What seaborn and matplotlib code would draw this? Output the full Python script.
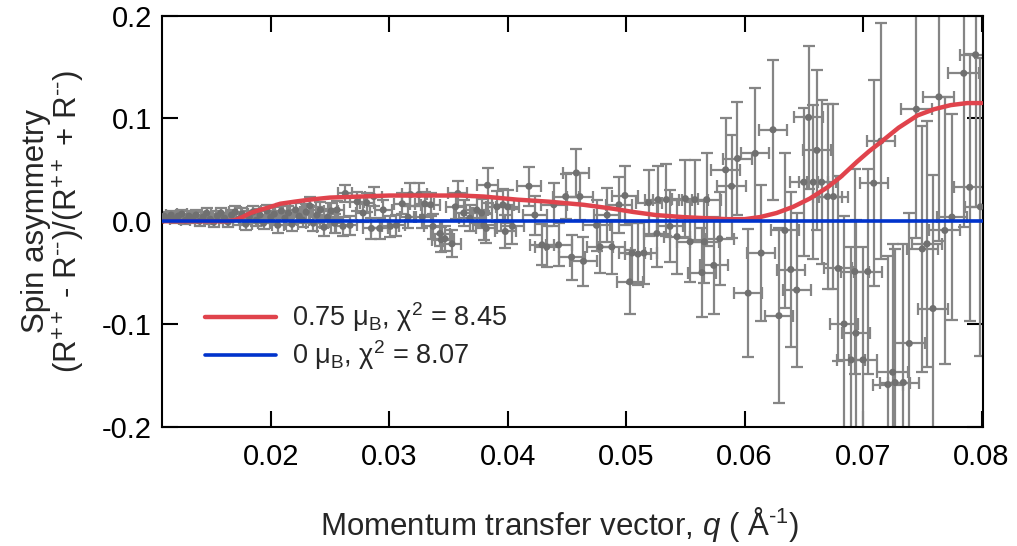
import numpy as np
import pandas as pd
import matplotlib
matplotlib.use("Agg")
import matplotlib.pyplot as plt
import seaborn as sns

# ---------------- data ----------------
q = [0.0110, 0.0113, 0.0116, 0.0119, 0.0122, 0.0125, 0.0128, 0.0131, 0.0134, 0.0137,
     0.0140, 0.0143, 0.0146, 0.0149, 0.0152, 0.0155, 0.0158, 0.0161, 0.0164, 0.0167,
     0.0170, 0.0173, 0.0176, 0.0179, 0.0182, 0.0185, 0.0188, 0.0191, 0.0194, 0.0197,
     0.0200, 0.0203, 0.0206, 0.0209, 0.0212, 0.0215, 0.0218, 0.0221, 0.0224, 0.0227,
     0.0230, 0.0233, 0.0236, 0.0239, 0.0242, 0.0245, 0.0248, 0.0251,
     0.0254, 0.0256, 0.0261, 0.0263, 0.0267, 0.0273, 0.0278, 0.0281, 0.0285, 0.0287,
     0.0292, 0.0295, 0.0301, 0.0306, 0.0311, 0.0316, 0.0318, 0.0325, 0.0328, 0.0330,
     0.0335, 0.0337, 0.0343, 0.0344, 0.0347, 0.0353, 0.0356, 0.0358, 0.0363, 0.0368,
     0.0374, 0.0378, 0.0380, 0.0382, 0.0383, 0.0391, 0.0396, 0.0398, 0.0400, 0.0404,
     0.0418, 0.0423, 0.0429, 0.0433, 0.0439, 0.0443, 0.0449, 0.0454, 0.0458, 0.0461,
     0.0464, 0.0475, 0.0478, 0.0484, 0.0488, 0.0494, 0.0499, 0.0503, 0.0505, 0.0510,
     0.0515, 0.0519, 0.0526, 0.0527, 0.0534, 0.0537, 0.0543, 0.0550, 0.0554, 0.0558,
     0.0564, 0.0566, 0.0568, 0.0574, 0.0579, 0.0584, 0.0589, 0.0594, 0.0603, 0.0609,
     0.0614, 0.0624, 0.0629, 0.0634, 0.0639, 0.0644, 0.0650, 0.0654, 0.0658, 0.0661,
     0.0665, 0.0670, 0.0675, 0.0679, 0.0684, 0.0690, 0.0693, 0.0694, 0.0700, 0.0704,
     0.0709, 0.0715, 0.0721, 0.0725, 0.0727, 0.0734, 0.0739, 0.0745, 0.0750, 0.0754,
     0.0759, 0.0764, 0.0769, 0.0775, 0.0785, 0.0790, 0.0795, 0.0799]

asym = [0.005, 0.003, 0.006, 0.002, 0.005, 0.007, 0.001, 0.005, 0.003, 0.006,
        0.000, 0.004, 0.008, 0.002, -0.001, 0.005, 0.008, 0.003, -0.001, 0.006,
        0.009, 0.002, 0.007, -0.003, 0.004, 0.009, 0.001, 0.006, -0.002, 0.010,
        0.004, 0.007, -0.004, 0.010, 0.003, 0.008, -0.003, 0.011, 0.005, 0.001,
        0.009, 0.015, -0.002, 0.006, 0.011, -0.006, 0.004, 0.010,
        -0.002, 0.011, -0.005, 0.027, -0.004, 0.019, 0.008, 0.018, -0.007, 0.024,
        -0.007, 0.011, -0.005, -0.004, 0.017, 0.004, 0.026, 0.026, 0.004, 0.017,
        0.016, -0.005, -0.012, -0.018, -0.017, -0.022, 0.014, 0.027, 0.008, 0.003,
        0.011, 0.008, -0.004, -0.007, 0.035, 0.014, 0.016, -0.010, 0.014, -0.005,
        0.034, 0.006, -0.023, -0.025, 0.016, -0.023, 0.024, -0.035, 0.047, 0.024,
        -0.039, -0.004, -0.025, 0.006, -0.025, 0.016, 0.025, -0.059, -0.031, -0.032,
        -0.031, 0.018, -0.012, 0.021, 0.021, -0.005, -0.015, 0.022, -0.020, 0.021,
        -0.050, -0.020, 0.021, -0.043, -0.017, 0.050, 0.034, 0.061, -0.070, 0.066,
        -0.031, 0.089, -0.092, -0.009, -0.047, -0.067, 0.038, 0.101, 0.038, 0.069,
        0.038, 0.024, 0.024, -0.046, -0.100, -0.135, -0.049, -0.109, -0.135, -0.049,
        0.037, 0.078, -0.159, -0.147, -0.157, -0.157, -0.119, 0.109, -0.027, -0.022,
        -0.085, 0.121, -0.009, 0.004, 0.144, 0.033, 0.162, 0.014]

asym_err = [0.004, 0.004, 0.004, 0.004, 0.004, 0.004, 0.004, 0.005, 0.005, 0.005,
            0.005, 0.005, 0.005, 0.005, 0.005, 0.005, 0.005, 0.005, 0.005, 0.005,
            0.006, 0.006, 0.006, 0.006, 0.006, 0.006, 0.006, 0.006, 0.006, 0.006,
            0.006, 0.007, 0.007, 0.007, 0.007, 0.007, 0.007, 0.007, 0.007, 0.007,
            0.008, 0.009, 0.008, 0.008, 0.008, 0.008, 0.008, 0.008,
            0.009, 0.009, 0.009, 0.008, 0.009, 0.009, 0.009, 0.009, 0.010, 0.009,
            0.010, 0.010, 0.010, 0.010, 0.010, 0.011, 0.011, 0.011, 0.011, 0.011,
            0.011, 0.012, 0.012, 0.012, 0.012, 0.013, 0.012, 0.012, 0.013, 0.013,
            0.013, 0.014, 0.014, 0.014, 0.017, 0.015, 0.015, 0.016, 0.016, 0.017,
            0.019, 0.019, 0.020, 0.020, 0.021, 0.021, 0.022, 0.022, 0.023, 0.023,
            0.024, 0.025, 0.025, 0.026, 0.026, 0.027, 0.029, 0.031, 0.029, 0.030,
            0.030, 0.032, 0.033, 0.033, 0.035, 0.035, 0.036, 0.038, 0.039, 0.039,
            0.043, 0.040, 0.045, 0.047, 0.045, 0.050, 0.050, 0.055, 0.062, 0.064,
            0.066, 0.068, 0.085, 0.075, 0.075, 0.075, 0.072, 0.070, 0.075, 0.078,
            0.080, 0.090, 0.090, 0.090, 0.105, 0.110, 0.100, 0.110, 0.110, 0.100,
            0.100, 0.115, 0.125, 0.125, 0.130, 0.135, 0.127, 0.125, 0.120, 0.120,
            0.130, 0.140, 0.130, 0.100, 0.150, 0.130, 0.148, 0.145]

q_err = [0.0004, 0.0004, 0.0004, 0.0004, 0.0004, 0.0004, 0.0004, 0.0004, 0.0004, 0.0004,
         0.0004, 0.0004, 0.0004, 0.0004, 0.0004, 0.0004, 0.0004, 0.0004, 0.0004, 0.0004,
         0.0005, 0.0005, 0.0005, 0.0005, 0.0005, 0.0005, 0.0005, 0.0005, 0.0005, 0.0005,
         0.0005, 0.0005, 0.0005, 0.0005, 0.0005, 0.0005, 0.0005, 0.0005, 0.0005, 0.0005,
         0.0005, 0.0005, 0.0006, 0.0006, 0.0006, 0.0006, 0.0006, 0.0006,
         0.0006, 0.0006, 0.0006, 0.0006, 0.0006, 0.0006, 0.0006, 0.0006, 0.0007, 0.0007,
         0.0007, 0.0007, 0.0007, 0.0007, 0.0007, 0.0007, 0.0007, 0.0007, 0.0007, 0.0008,
         0.0008, 0.0008, 0.0008, 0.0008, 0.0008, 0.0008, 0.0008, 0.0008, 0.0008, 0.0009,
         0.0009, 0.0009, 0.0009, 0.0009, 0.0009, 0.0009, 0.0009, 0.0009, 0.0010, 0.0010,
         0.0010, 0.0010, 0.0010, 0.0010, 0.0011, 0.0011, 0.0011, 0.0011, 0.0011, 0.0011,
         0.0011, 0.0011, 0.0011, 0.0011, 0.0011, 0.0011, 0.0011, 0.0011, 0.0011, 0.0011,
         0.0011, 0.0011, 0.0011, 0.0011, 0.0011, 0.0011, 0.0011, 0.0011, 0.0011, 0.0011,
         0.0012, 0.0012, 0.0012, 0.0012, 0.0012, 0.0012, 0.0012, 0.0012, 0.0012, 0.0012,
         0.0012, 0.0012, 0.0012, 0.0012, 0.0012, 0.0012, 0.0012, 0.0012, 0.0012, 0.0012,
         0.0012, 0.0012, 0.0012, 0.0012, 0.0012, 0.0012, 0.0012, 0.0012, 0.0012, 0.0012,
         0.0012, 0.0012, 0.0013, 0.0013, 0.0013, 0.0013, 0.0013, 0.0013, 0.0013, 0.0013,
         0.0013, 0.0013, 0.0013, 0.0013, 0.0013, 0.0013, 0.0013, 0.0013]

# fitted curves
q_fit = [0.0108, 0.0150, 0.0163, 0.0170, 0.0176, 0.0183, 0.0191, 0.0200, 0.0208, 0.0220,
         0.0233, 0.0250, 0.0275, 0.0300, 0.0320, 0.0340, 0.0360, 0.0380, 0.0408, 0.0435,
         0.0464, 0.0490, 0.0506, 0.0525, 0.0548, 0.0566, 0.0585, 0.0600, 0.0613, 0.0627,
         0.0641, 0.0655, 0.0670, 0.0681, 0.0695, 0.0705, 0.0715, 0.0730, 0.0746, 0.0760,
         0.0774, 0.0788, 0.0800]
fit_075 = [0.000, 0.000, 0.000, 0.001, 0.004, 0.008, 0.011, 0.014, 0.017, 0.019,
           0.021, 0.023, 0.024, 0.025, 0.025, 0.025, 0.025, 0.024, 0.021, 0.019,
           0.016, 0.012, 0.009, 0.006, 0.004, 0.003, 0.002, 0.002, 0.004, 0.008,
           0.014, 0.022, 0.033, 0.043, 0.058, 0.068, 0.077, 0.091, 0.103, 0.109,
           0.113, 0.115, 0.115]
q_zero = [0.0108, 0.0800]
fit_0 = [0.0, 0.0]

x_ticks = [0.02, 0.03, 0.04, 0.05, 0.06, 0.07, 0.08]
x_tick_labels = ["0.02", "0.03", "0.04", "0.05", "0.06", "0.07", "0.08"]
y_ticks = [-0.2, -0.1, 0.0, 0.1, 0.2]
y_tick_labels = ["-0.2", "-0.1", "0.0", "0.1", "0.2"]

label_075 = r"0.75 μ$_\mathregular{B}$, χ$^\mathregular{2}$ = 8.45"
label_0 = r"0 μ$_\mathregular{B}$, χ$^\mathregular{2}$ = 8.07"

# ---------------- styling ----------------
sns.set_theme(style="white")
plt.rcParams["font.family"] = ["Liberation Sans", "DejaVu Sans"]
plt.rcParams["mathtext.fontset"] = "custom"
plt.rcParams["mathtext.rm"] = "Liberation Sans"
plt.rcParams["mathtext.it"] = "Liberation Sans:italic"
plt.rcParams["mathtext.bf"] = "Liberation Sans:bold"
plt.rcParams["axes.unicode_minus"] = False

data = pd.DataFrame({"q": q, "asym": asym, "err": asym_err, "qerr": q_err})
fit_a = pd.DataFrame({"q": q_fit, "A": fit_075})
fit_b = pd.DataFrame({"q": q_zero, "A": fit_0})

fig = plt.figure(figsize=(10.17, 5.46), dpi=100)
ax = fig.add_axes([0.1590, 0.2185, 0.8073, 0.7527])

ax.errorbar(data["q"], data["asym"], yerr=data["err"], xerr=data["qerr"],
            fmt="none", ecolor="#858585", elinewidth=1.6, capsize=4.6,
            capthick=1.6, zorder=2)
sns.scatterplot(data=data, x="q", y="asym", ax=ax, color="#707070", s=26,
                edgecolor="none", linewidth=0, zorder=3, legend=False)
sns.lineplot(data=fit_a, x="q", y="A", ax=ax, color="#e0434c", linewidth=3.2,
             label=label_075, zorder=4, sort=False)
sns.lineplot(data=fit_b, x="q", y="A", ax=ax, color="#0033cc", linewidth=2.6,
             label=label_0, zorder=5, sort=False)

ax.set_xlim(0.0108, 0.0801)
ax.set_ylim(-0.2, 0.2)
ax.set_xticks(x_ticks)
ax.set_xticklabels(x_tick_labels)
ax.set_yticks(y_ticks)
ax.set_yticklabels(y_tick_labels)
ax.tick_params(axis="both", which="major", direction="in", length=11.5, width=1.5,
               bottom=True, left=True, top=True, right=True,
               labelsize=21, colors="black")
ax.tick_params(axis="x", pad=12)
ax.tick_params(axis="y", pad=7)
for sp in ax.spines.values():
    sp.set_visible(True)
    sp.set_linewidth(1.5)
    sp.set_color("black")

ax.set_xlabel("Momentum transfer vector, $q$ ( Å$^\\mathregular{‐1}$)", fontsize=22.5)
ax.xaxis.set_label_coords(0.484, -0.19)
ax.xaxis.label.set_va("top")
ax.set_ylabel("Spin asymmetry\n"
              "(R$^\\mathregular{++}$ - R$^\\mathregular{‐‐}$)/(R$^\\mathregular{++}$ + R$^\\mathregular{‐‐}$)",
              fontsize=22.5, linespacing=1.0)
ax.yaxis.set_label_coords(-0.091, 0.5)

handles, labels = ax.get_legend_handles_labels()
order = [labels.index(label_075), labels.index(label_0)]
ax.legend([handles[i] for i in order], [labels[i] for i in order],
          loc="center left", bbox_to_anchor=(0.053, 0.22), frameon=False,
          fontsize=19.5, handlelength=2.6, handletextpad=0.6,
          labelspacing=0.15, borderpad=0, borderaxespad=0)

fig.savefig("out.png", dpi=100)
